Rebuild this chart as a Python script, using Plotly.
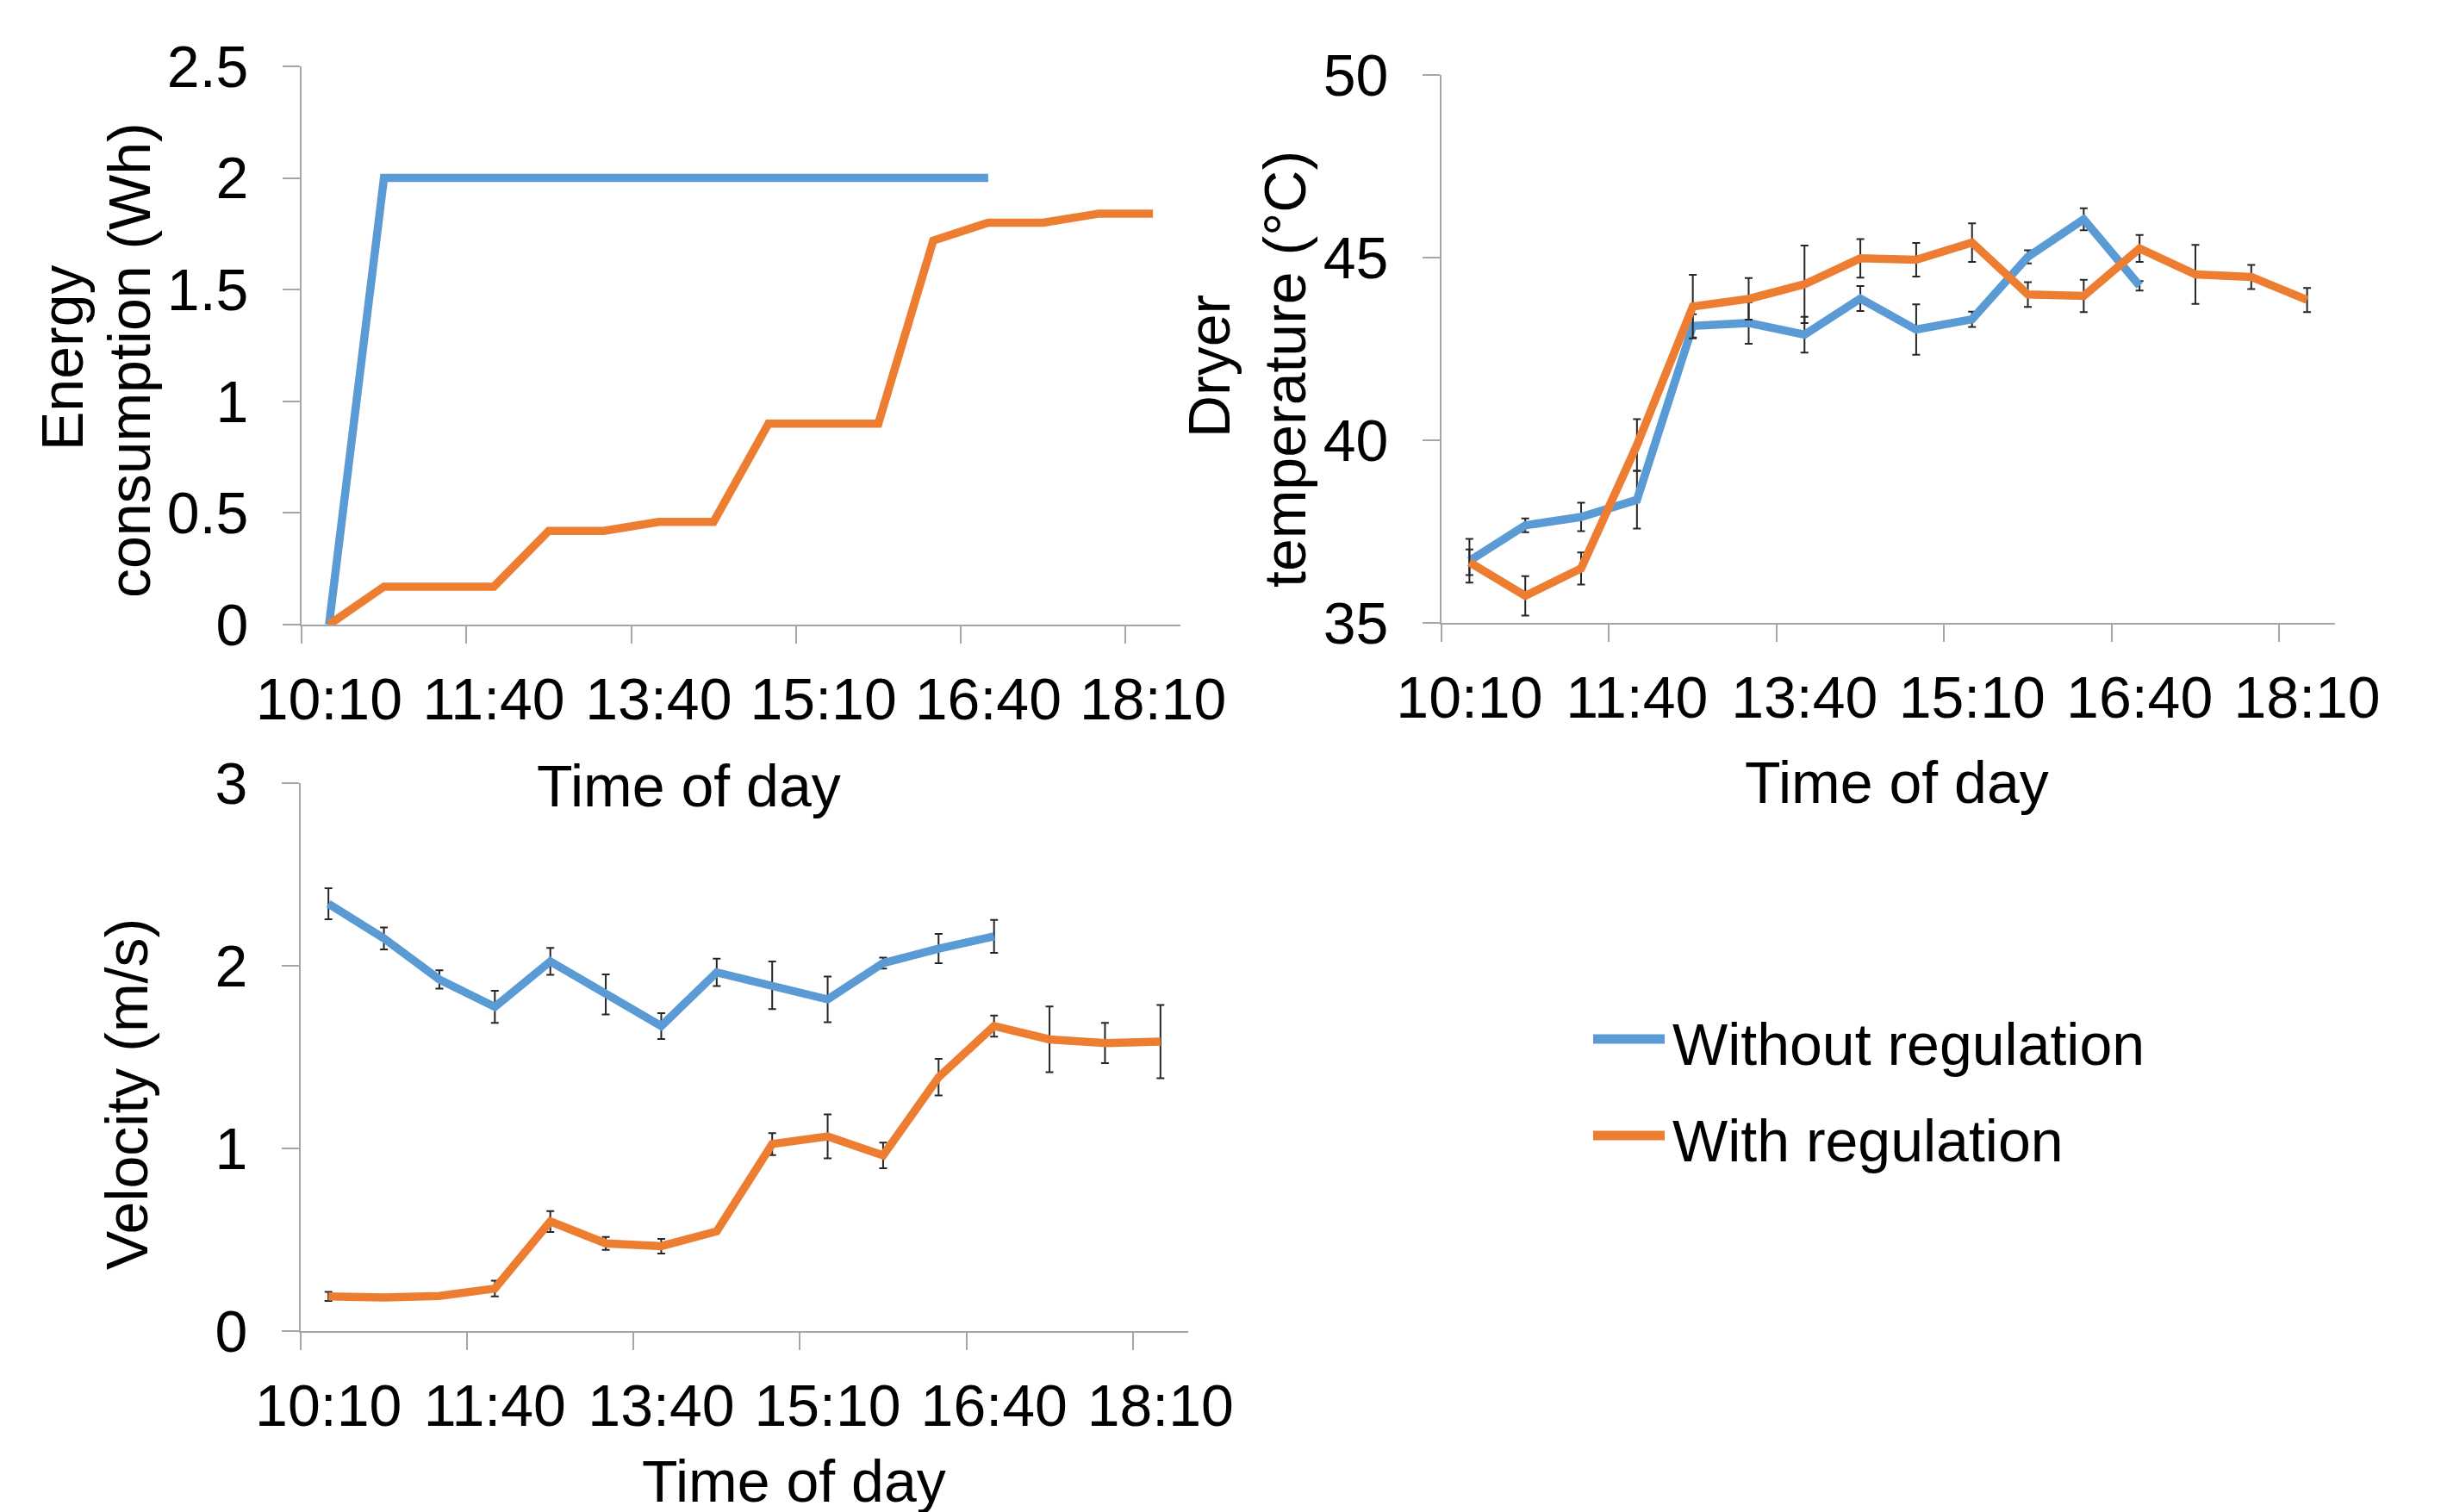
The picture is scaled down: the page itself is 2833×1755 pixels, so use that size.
import plotly.graph_objects as go

# ---------------- data ----------------
times = ["10:10", "10:40", "11:10", "11:40", "12:20", "12:50", "13:40", "14:10",
         "14:40", "15:10", "15:40", "16:10", "16:40", "17:10", "17:40", "18:10"]
tick_labels = ["10:10", "11:40", "13:40", "15:10", "16:40", "18:10"]
tick_index = [0, 3, 6, 9, 12, 15]

energy_without = [0, 2, 2, 2, 2, 2, 2, 2, 2, 2, 2, 2, 2]
energy_with = [0, 0.17, 0.17, 0.17, 0.42, 0.42, 0.46, 0.46, 0.90, 0.90, 0.90,
               1.72, 1.80, 1.80, 1.84, 1.84]

temp_without = [36.70, 37.67, 37.90, 38.37, 43.13, 43.21, 42.89, 43.88, 43.03,
                43.31, 45.02, 46.05, 44.23]
temp_without_err = [0.60, 0.19, 0.39, 0.79, 0.32, 0.57, 0.49, 0.34, 0.69, 0.21,
                    0.18, 0.30, 0.13]
temp_with = [36.66, 35.74, 36.49, 39.87, 43.66, 43.87, 44.27, 44.98, 44.94, 45.41,
             43.99, 43.95, 45.25, 44.54, 44.47, 43.84]
temp_with_err = [0.35, 0.54, 0.44, 0.71, 0.87, 0.57, 1.06, 0.53, 0.46, 0.53, 0.34,
                 0.44, 0.37, 0.81, 0.33, 0.33]

vel_without = [2.34, 2.15, 1.925, 1.775, 2.024, 1.843, 1.67, 1.964, 1.893, 1.816,
               2.015, 2.094, 2.161]
vel_without_err = [0.085, 0.06, 0.05, 0.088, 0.074, 0.11, 0.071, 0.075, 0.13, 0.125,
                   0.03, 0.08, 0.09]
vel_with = [0.19, 0.184, 0.192, 0.233, 0.60, 0.48, 0.465, 0.546, 1.024, 1.066, 0.962,
            1.39, 1.67, 1.597, 1.577, 1.585]
vel_with_err = [0.025, 0.0, 0.0, 0.043, 0.057, 0.035, 0.04, 0.0, 0.06, 0.12, 0.07,
                0.10, 0.058, 0.18, 0.11, 0.20]

series_names = ["Without regulation", "With regulation"]
colors = ["#5B9BD5", "#ED7D31"]

# ---------------- layout helpers ----------------
W, H = 2833, 1755
OFF = 8  # page body margin in the browser
FONT = "Liberation Sans, Arial, sans-serif"
FS = 68
AXIS_COLOR = "#A6A6A6"
ERR_COLOR = "#262626"
LW = 9.5


def px_x(v):
    return (v - OFF) / W


def px_y(v):
    return 1 - (v - OFF) / H


fig = go.Figure()


def add_series(xaxis, yaxis, values, errs, k):
    x = list(range(len(values)))
    tr = dict(
        x=x, y=values, mode="lines", name=series_names[k],
        line=dict(color=colors[k], width=LW),
        xaxis=xaxis, yaxis=yaxis, showlegend=False,
        hovertext=[times[i] for i in x],
    )
    if errs is not None:
        tr["error_y"] = dict(type="data", array=errs, visible=True, color=ERR_COLOR,
                             thickness=2, width=4.5)
    fig.add_trace(go.Scatter(**tr))


add_series("x", "y", energy_without, None, 0)
add_series("x", "y", energy_with, None, 1)
add_series("x2", "y2", temp_without, temp_without_err, 0)
add_series("x2", "y2", temp_with, temp_with_err, 1)
add_series("x3", "y3", vel_without, vel_without_err, 0)
add_series("x3", "y3", vel_with, vel_with_err, 1)

boundaries = [i - 0.5 for i in tick_index]


def xaxis_cfg(dom, anchor):
    return dict(
        domain=dom, anchor=anchor, range=[-0.5, len(times) - 0.5],
        tickmode="array", tickvals=tick_index, ticktext=tick_labels, ticks="",
        showline=True, linecolor=AXIS_COLOR, linewidth=2, showgrid=False,
        zeroline=False, tickfont=dict(family=FONT, size=FS, color="black"),
        ticklabelstandoff=26, automargin=False,
        minor=dict(tickmode="array", tickvals=boundaries, ticks="outside",
                   ticklen=20, tickwidth=2, tickcolor=AXIS_COLOR, showgrid=False),
    )


def yaxis_cfg(dom, anchor, rng, dtick):
    return dict(
        domain=dom, anchor=anchor, range=rng, dtick=dtick, tick0=rng[0],
        ticks="outside", ticklen=20, tickwidth=2, tickcolor=AXIS_COLOR,
        showline=True, linecolor=AXIS_COLOR, linewidth=2, showgrid=False,
        zeroline=False, tickfont=dict(family=FONT, size=FS, color="black"),
        ticklabelstandoff=26, automargin=False,
    )


fig.update_layout(
    width=W, height=H, paper_bgcolor="white", plot_bgcolor="white",
    margin=dict(l=0, r=0, t=0, b=0, pad=0, autoexpand=False),
    xaxis=xaxis_cfg([px_x(350), px_x(1370)], "y"),
    yaxis=yaxis_cfg([px_y(725), px_y(77)], "x", [0, 2.5], 0.5),
    xaxis2=xaxis_cfg([px_x(1673), px_x(2710)], "y2"),
    yaxis2=yaxis_cfg([px_y(723), px_y(87)], "x2", [35, 50], 5),
    xaxis3=xaxis_cfg([px_x(349), px_x(1379)], "y3"),
    yaxis3=yaxis_cfg([px_y(1545), px_y(909)], "x3", [0, 3], 1),
    showlegend=False,
)

titles = [
    ("Energy", 72, 416, -90),
    ("consumption (Wh)", 150, 418, -90),
    ("Dryer", 1403, 425, -90),
    ("temperature (°C)", 1491, 428, -90),
    ("Velocity (m/s)", 147, 1270, -90),
    ("Time of day", 799, 912, 0),
    ("Time of day", 2201, 908, 0),
    ("Time of day", 921, 1719, 0),
]
for text, x, y, ang in titles:
    fig.add_annotation(text=text, x=px_x(x), y=px_y(y), xref="paper", yref="paper",
                       showarrow=False, textangle=ang, xanchor="center",
                       yanchor="middle",
                       font=dict(family=FONT, size=FS, color="black"))

# legend (line sample + label for each series)
legend_rows = [1206, 1318]
for k, row_y in enumerate(legend_rows):
    fig.add_shape(type="line", xref="paper", yref="paper",
                  x0=px_x(1849), x1=px_x(1932), y0=px_y(row_y), y1=px_y(row_y),
                  line=dict(color=colors[k], width=11))
    fig.add_annotation(text=series_names[k], x=px_x(1939), y=px_y(row_y + 6),
                       xref="paper", yref="paper", showarrow=False,
                       xanchor="left", yanchor="middle",
                       font=dict(family=FONT, size=FS, color="black"))

fig.write_html("out.html")
